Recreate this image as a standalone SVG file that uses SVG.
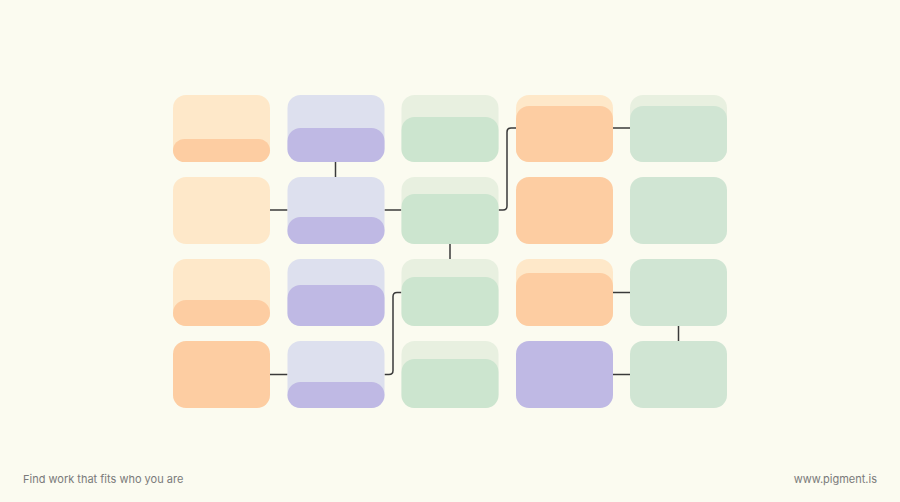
<svg xmlns="http://www.w3.org/2000/svg" width="900" height="502" viewBox="0 0 900 502">
<defs>
<style>
.bg{fill:#FBFBF0}
.pl{fill:#FEE8C9}.pd{fill:#FDCDA2}
.ll{fill:#DDE0EE}.ld{fill:#BFB9E4}
.gl{fill:#E8F0E0}.gd{fill:#CCE5CF}.gf{fill:#D0E5D3}
.c{fill:none;stroke:#3a3a3a;stroke-width:1.5}
.t{font-family:Inter,"Liberation Sans",sans-serif;font-size:11px;fill:#7a7a7a}
</style>
</defs>
<rect class="bg" x="0" y="0" width="900" height="502"/>
<g id="connectors">
<path class="c" d="M335.5,162 V177"/>
<path class="c" d="M270,210 H287.5"/>
<path class="c" d="M384.5,210 H401.5"/>
<path class="c" d="M498.5,210 H503 Q507,210 507,206 V132 Q507,128 511,128 H516"/>
<path class="c" d="M612.5,128 H630"/>
<path class="c" d="M450,244 V259"/>
<path class="c" d="M384.5,374.5 H389 Q393,374.5 393,370.5 V296.5 Q393,292.5 397,292.5 H401.5"/>
<path class="c" d="M270,374.5 H287.5"/>
<path class="c" d="M612.5,292.5 H630"/>
<path class="c" d="M678.5,326 V341"/>
<path class="c" d="M612.5,374.5 H630"/>
</g>
<g id="n-r1c1"><rect class="pl" x="173" y="95" width="97" height="67" rx="13"/><rect class="pd" x="173" y="139" width="97" height="23" rx="11.5"/></g>
<g id="n-r1c2"><rect class="ll" x="287.5" y="95" width="97" height="67" rx="13"/><rect class="ld" x="287.5" y="128" width="97" height="34" rx="13"/></g>
<g id="n-r1c3"><rect class="gl" x="401.5" y="95" width="97" height="67" rx="13"/><rect class="gd" x="401.5" y="117" width="97" height="45" rx="13"/></g>
<g id="n-r1c4"><rect class="pl" x="516" y="95" width="97" height="67" rx="13"/><rect class="pd" x="516" y="106" width="97" height="56" rx="13"/></g>
<g id="n-r1c5"><rect class="gl" x="630" y="95" width="97" height="67" rx="13"/><rect class="gf" x="630" y="106" width="97" height="56" rx="13"/></g>

<g id="n-r2c1"><rect class="pl" x="173" y="177" width="97" height="67" rx="13"/></g>
<g id="n-r2c2"><rect class="ll" x="287.5" y="177" width="97" height="67" rx="13"/><rect class="ld" x="287.5" y="217" width="97" height="27" rx="13"/></g>
<g id="n-r2c3"><rect class="gl" x="401.5" y="177" width="97" height="67" rx="13"/><rect class="gd" x="401.5" y="194" width="97" height="50" rx="13"/></g>
<g id="n-r2c4"><rect class="pd" x="516" y="177" width="97" height="67" rx="13"/></g>
<g id="n-r2c5"><rect class="gf" x="630" y="177" width="97" height="67" rx="13"/></g>

<g id="n-r3c1"><rect class="pl" x="173" y="259" width="97" height="67" rx="13"/><rect class="pd" x="173" y="300" width="97" height="26" rx="13"/></g>
<g id="n-r3c2"><rect class="ll" x="287.5" y="259" width="97" height="67" rx="13"/><rect class="ld" x="287.5" y="285" width="97" height="41" rx="13"/></g>
<g id="n-r3c3"><rect class="gl" x="401.5" y="259" width="97" height="67" rx="13"/><rect class="gd" x="401.5" y="277" width="97" height="49" rx="13"/></g>
<g id="n-r3c4"><rect class="pl" x="516" y="259" width="97" height="67" rx="13"/><rect class="pd" x="516" y="273" width="97" height="53" rx="13"/></g>
<g id="n-r3c5"><rect class="gf" x="630" y="259" width="97" height="67" rx="13"/></g>

<g id="n-r4c1"><rect class="pd" x="173" y="341" width="97" height="67" rx="13"/></g>
<g id="n-r4c2"><rect class="ll" x="287.5" y="341" width="97" height="67" rx="13"/><rect class="ld" x="287.5" y="382" width="97" height="26" rx="13"/></g>
<g id="n-r4c3"><rect class="gl" x="401.5" y="341" width="97" height="67" rx="13"/><rect class="gd" x="401.5" y="359" width="97" height="49" rx="13"/></g>
<g id="n-r4c4"><rect class="ld" x="516" y="341" width="97" height="67" rx="13"/></g>
<g id="n-r4c5"><rect class="gf" x="630" y="341" width="97" height="67" rx="13"/></g>

<text class="t" x="23" y="483">Find work that fits who you are</text>
<text class="t" x="877" y="483" text-anchor="end">www.pigment.is</text>
</svg>
